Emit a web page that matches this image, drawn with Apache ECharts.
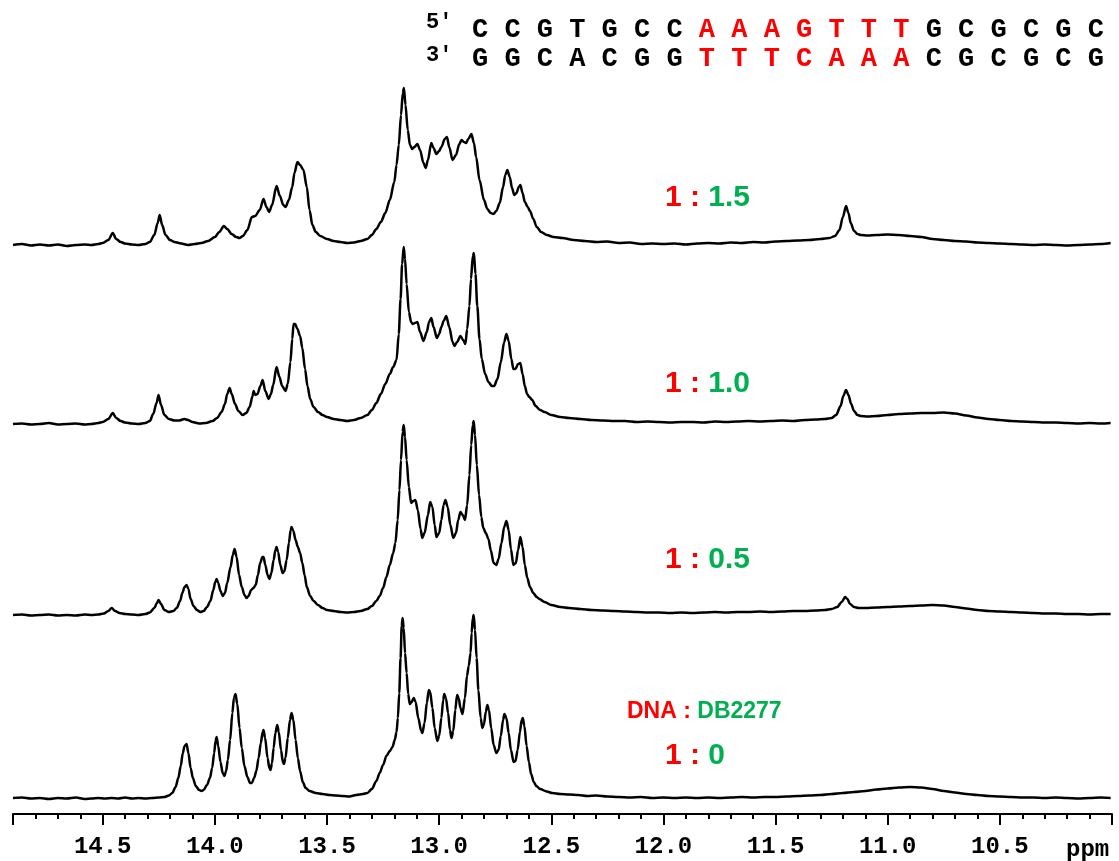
<!DOCTYPE html>
<html><head><meta charset="utf-8">
<script src="https://cdn.jsdelivr.net/npm/echarts@6/dist/echarts.min.js"></script>
<style>html,body{margin:0;padding:0;background:#fff}#c{width:1119px;height:861px}</style>
</head><body><div id="c"></div>
<script>
// x range (ppm) and tick labels
const ppmMin = 10.0, ppmMax = 14.9;
const tickLabels = ['14.5','14.0','13.5','13.0','12.5','12.0','11.5','11.0','10.5'];

// spectra: [ppm, intensity] (intensity above each trace's own baseline)
const trace15 = [[14.90,0],[14.86,1],[14.82,-0.5],[14.78,0.5],[14.74,-0.5],[14.70,0.5],[14.66,-1],[14.62,0],[14.58,0.5],[14.55,0],[14.52,1],[14.50,2],[14.475,5],[14.455,12],[14.44,6],[14.42,3],[14.40,1.5],[14.37,0.5],[14.34,0],[14.31,1],[14.29,3],[14.27,10],[14.255,22],[14.246,30],[14.235,20],[14.22,10],[14.20,5],[14.18,3],[14.15,1.5],[14.12,0],[14.09,1],[14.06,2],[14.03,4],[14.00,8],[13.98,13],[13.96,19],[13.945,16],[13.925,11],[13.905,8],[13.89,7],[13.875,9],[13.855,15],[13.835,28],[13.82,29],[13.80,35],[13.783,46],[13.77,38],[13.758,33],[13.745,40],[13.725,59],[13.71,49],[13.695,40],[13.685,38],[13.67,45],[13.655,58],[13.645,72],[13.632,83],[13.62,80],[13.605,75],[13.59,58],[13.578,35],[13.565,20],[13.55,13],[13.53,9],[13.50,6],[13.47,4],[13.44,3],[13.41,2],[13.38,2.5],[13.35,4],[13.32,6],[13.30,10],[13.28,16],[13.26,23],[13.24,32],[13.22,45],[13.20,63],[13.19,80],[13.18,100],[13.17,130],[13.162,152],[13.157,157],[13.15,140],[13.14,115],[13.13,100],[13.12,96],[13.11,98],[13.097,101],[13.085,95],[13.07,82],[13.06,77],[13.05,85],[13.035,102],[13.025,97],[13.012,91],[13.00,94],[12.99,98],[12.975,106],[12.965,108],[12.955,98],[12.94,85],[12.925,90],[12.91,101],[12.90,105],[12.89,103],[12.88,102],[12.87,106],[12.856,111],[12.845,102],[12.835,88],[12.82,65],[12.80,45],[12.785,36],[12.77,32],[12.758,31],[12.745,34],[12.73,42],[12.715,58],[12.705,70],[12.696,75],[12.685,68],[12.675,57],[12.665,50],[12.655,52],[12.645,58],[12.638,60],[12.628,52],[12.618,43],[12.605,38],[12.595,34],[12.58,26],[12.565,18],[12.545,13],[12.52,10],[12.49,8],[12.45,7],[12.40,5],[12.35,4],[12.30,3],[12.25,3.5],[12.20,2],[12.15,2.5],[12.10,1],[12.05,1.5],[12.00,1],[11.95,1.5],[11.90,0.5],[11.85,1.5],[11.80,2],[11.75,1.5],[11.70,2.5],[11.65,2],[11.60,3],[11.55,2.5],[11.50,3.5],[11.45,4],[11.40,4.5],[11.35,5],[11.30,6],[11.26,7],[11.235,9],[11.215,15],[11.20,28],[11.186,39],[11.175,32],[11.165,22],[11.15,14],[11.135,11],[11.12,10],[11.09,9.5],[11.05,10],[11.00,10.5],[10.95,10],[10.90,9],[10.85,8],[10.80,6],[10.75,5],[10.70,4],[10.65,3.5],[10.60,2.5],[10.55,2],[10.50,1.5],[10.45,1],[10.40,0.5],[10.35,0],[10.30,0.5],[10.25,0],[10.20,-0.5],[10.15,0],[10.10,0.5],[10.05,1],[10.006,2]];
const trace10 = [[14.90,0],[14.86,0.5],[14.82,-0.5],[14.78,0],[14.74,1],[14.70,-0.5],[14.66,0],[14.62,0.5],[14.58,-0.5],[14.55,0],[14.52,1],[14.50,2],[14.475,5],[14.455,11],[14.44,6],[14.42,3],[14.40,1.5],[14.37,0.5],[14.34,0],[14.31,1],[14.29,3],[14.275,10],[14.26,21],[14.251,29],[14.24,19],[14.225,9],[14.205,5],[14.18,3.5],[14.16,3.5],[14.135,5],[14.12,4],[14.10,2],[14.07,0.5],[14.04,1],[14.01,3],[13.99,6],[13.97,12],[13.955,20],[13.945,30],[13.934,36],[13.925,30],[13.91,20],[13.895,13],[13.876,9],[13.86,11],[13.845,17],[13.832,28],[13.827,33],[13.82,29],[13.81,30],[13.797,38],[13.787,44],[13.775,33],[13.76,25],[13.75,30],[13.74,39],[13.725,57],[13.712,47],[13.70,38],[13.685,33],[13.675,40],[13.663,62],[13.655,85],[13.649,100],[13.642,100],[13.632,95],[13.62,88],[13.61,76],[13.598,55],[13.587,38],[13.575,25],[13.56,17],[13.54,12],[13.52,9],[13.50,7],[13.47,5],[13.44,4],[13.41,3],[13.38,4],[13.35,6],[13.32,9],[13.30,14],[13.28,21],[13.26,30],[13.24,40],[13.22,50],[13.205,57],[13.19,64],[13.18,90],[13.172,125],[13.165,160],[13.158,177],[13.152,165],[13.145,140],[13.135,112],[13.125,102],[13.118,100],[13.108,101],[13.097,102],[13.085,92],[13.07,83],[13.055,92],[13.045,102],[13.035,106],[13.025,97],[13.01,86],[13.00,90],[12.99,97],[12.98,103],[12.968,108],[12.955,97],[12.94,82],[12.932,78],[12.92,82],[12.905,88],[12.893,84],[12.883,80],[12.875,95],[12.865,118],[12.858,145],[12.85,168],[12.845,171],[12.838,150],[12.83,118],[12.82,85],[12.81,65],[12.795,50],[12.78,42],[12.765,38],[12.755,38],[12.74,45],[12.725,62],[12.71,82],[12.70,90],[12.69,83],[12.678,65],[12.669,55],[12.66,55],[12.648,60],[12.638,61],[12.628,50],[12.618,38],[12.608,30],[12.598,27],[12.585,24],[12.57,18],[12.55,14],[12.53,12],[12.50,9],[12.46,7],[12.42,6],[12.37,5],[12.32,4],[12.27,3.5],[12.22,3],[12.17,3],[12.12,2],[12.07,2.5],[12.02,2],[11.97,1.5],[11.92,2],[11.87,2],[11.82,1.5],[11.77,2.5],[11.72,2],[11.67,2.5],[11.62,3],[11.57,2.5],[11.52,3],[11.47,3.5],[11.42,3],[11.37,4],[11.32,4.5],[11.28,5],[11.25,6],[11.23,9],[11.21,18],[11.198,28],[11.186,34],[11.175,29],[11.163,20],[11.15,13],[11.135,9],[11.12,8],[11.09,7.5],[11.05,8],[11.00,9],[10.95,10],[10.90,10.5],[10.85,11],[10.80,11],[10.75,11.5],[10.70,10.5],[10.65,8.5],[10.60,6.5],[10.55,5],[10.50,4],[10.45,3],[10.40,2.5],[10.35,2],[10.30,1.5],[10.25,1.5],[10.20,1],[10.15,0.5],[10.10,1],[10.05,0.5],[10.006,1]];
const trace05 = [[14.90,0],[14.86,0.5],[14.82,-0.5],[14.78,0],[14.74,0.5],[14.70,-0.5],[14.66,0],[14.62,-0.5],[14.58,0.5],[14.55,0],[14.52,0.5],[14.495,1.5],[14.475,4],[14.46,7],[14.445,4],[14.425,2],[14.40,1],[14.37,0.5],[14.34,0],[14.31,1],[14.29,2.5],[14.27,7],[14.258,12],[14.251,15],[14.24,11],[14.225,5],[14.205,3],[14.185,4],[14.17,7],[14.155,14],[14.145,22],[14.135,28],[14.126,30],[14.118,26],[14.108,16],[14.095,9],[14.08,5],[14.065,3],[14.05,4],[14.035,8],[14.02,14],[14.007,25],[13.998,33],[13.992,36],[13.985,32],[13.975,24],[13.965,19],[13.955,22],[13.945,32],[13.93,48],[13.92,60],[13.912,66],[13.903,58],[13.892,40],[13.88,28],[13.868,20],[13.859,17],[13.85,19],[13.838,25],[13.828,27],[13.818,30],[13.808,40],[13.798,52],[13.788,58],[13.783,58],[13.775,50],[13.765,40],[13.757,36],[13.748,42],[13.738,55],[13.73,65],[13.725,68],[13.718,63],[13.708,50],[13.698,42],[13.69,44],[13.68,55],[13.67,72],[13.662,85],[13.658,88],[13.65,84],[13.64,75],[13.63,68],[13.62,62],[13.61,52],[13.60,40],[13.59,28],[13.575,19],[13.56,14],[13.54,10],[13.52,7],[13.50,5],[13.47,4],[13.44,3],[13.41,2.5],[13.38,3],[13.35,4],[13.32,6],[13.30,9],[13.28,14],[13.265,19],[13.25,27],[13.235,38],[13.22,50],[13.205,62],[13.195,72],[13.185,95],[13.177,125],[13.17,155],[13.163,183],[13.158,190],[13.152,178],[13.145,155],[13.135,128],[13.125,112],[13.115,114],[13.106,115],[13.095,105],[13.083,86],[13.075,77],[13.065,82],[13.05,100],[13.04,113],[13.03,108],[13.02,90],[13.012,78],[13.00,82],[12.99,95],[12.98,110],[12.972,115],[12.962,108],[12.95,90],[12.937,77],[12.925,82],[12.915,95],[12.905,103],[12.895,100],[12.885,95],[12.875,110],[12.865,140],[12.857,170],[12.85,190],[12.846,194],[12.84,180],[12.832,150],[12.822,120],[12.812,98],[12.803,87],[12.792,82],[12.78,76],[12.77,65],[12.757,52],[12.745,50],[12.735,56],[12.722,72],[12.71,88],[12.70,94],[12.69,85],[12.68,66],[12.669,50],[12.658,52],[12.648,65],[12.638,78],[12.628,68],[12.618,50],[12.607,37],[12.595,28],[12.58,22],[12.565,18],[12.553,16],[12.53,13],[12.50,10],[12.46,8],[12.42,7],[12.37,6],[12.32,5],[12.27,4.5],[12.22,4],[12.17,3.5],[12.12,3],[12.07,2.5],[12.02,2.5],[11.97,2],[11.92,2.5],[11.87,2],[11.82,2.5],[11.77,3],[11.72,2.5],[11.67,3],[11.62,3],[11.57,3.5],[11.52,3],[11.47,3.5],[11.42,4],[11.37,4],[11.32,4.5],[11.28,5],[11.25,6],[11.225,8],[11.205,13],[11.19,18],[11.18,16],[11.168,11],[11.15,8],[11.13,7],[11.10,7],[11.05,7.5],[11.00,8],[10.95,8.5],[10.90,9],[10.85,9.5],[10.80,10],[10.75,9.5],[10.70,8],[10.65,6.5],[10.60,5],[10.55,4],[10.50,3.5],[10.45,3],[10.40,2.5],[10.35,2],[10.30,1.5],[10.25,1.5],[10.20,1],[10.15,1],[10.10,0.5],[10.05,1],[10.006,1]];
const trace00 = [[14.90,0],[14.86,0.5],[14.82,-0.5],[14.78,0],[14.74,-1],[14.70,0],[14.66,-0.5],[14.62,0.5],[14.58,-1],[14.55,-0.5],[14.52,0],[14.49,-0.5],[14.46,0],[14.43,-0.5],[14.40,0.5],[14.37,-0.5],[14.34,0],[14.31,-0.5],[14.28,0],[14.25,0.5],[14.225,1],[14.205,2.5],[14.19,5],[14.175,11],[14.163,20],[14.152,32],[14.143,45],[14.135,52],[14.126,54],[14.118,45],[14.108,30],[14.098,20],[14.085,12],[14.07,8],[14.059,7],[14.05,8],[14.035,13],[14.022,20],[14.012,30],[14.003,45],[13.997,57],[13.992,61],[13.985,52],[13.975,36],[13.965,25],[13.957,22],[13.95,27],[13.942,38],[13.932,58],[13.922,85],[13.915,100],[13.908,104],[13.90,94],[13.89,70],[13.88,50],[13.868,32],[13.855,21],[13.843,15],[13.835,15],[13.825,20],[13.815,27],[13.805,40],[13.795,55],[13.787,66],[13.783,68],[13.776,60],[13.765,40],[13.757,30],[13.752,28],[13.745,35],[13.738,50],[13.73,65],[13.722,73],[13.715,66],[13.705,48],[13.697,36],[13.692,34],[13.685,40],[13.675,60],[13.665,78],[13.658,85],[13.65,78],[13.64,58],[13.63,40],[13.62,27],[13.608,16],[13.595,10],[13.578,7],[13.55,5],[13.52,4],[13.49,3],[13.46,2.5],[13.43,2],[13.40,1.5],[13.37,3],[13.34,4],[13.32,5],[13.30,9],[13.28,17],[13.265,25],[13.25,33],[13.235,42],[13.22,47],[13.208,51],[13.198,58],[13.19,66],[13.184,80],[13.178,105],[13.172,140],[13.167,172],[13.163,180],[13.158,170],[13.152,145],[13.145,125],[13.138,104],[13.131,94],[13.123,96],[13.113,100],[13.105,96],[13.093,80],[13.08,67],[13.075,65],[13.065,75],[13.055,95],[13.046,108],[13.04,106],[13.03,90],[13.02,70],[13.008,57],[13.00,62],[12.99,80],[12.982,98],[12.977,104],[12.97,100],[12.96,85],[12.952,68],[12.945,60],[12.937,67],[12.928,88],[12.92,103],[12.913,100],[12.905,90],[12.896,84],[12.885,100],[12.876,122],[12.868,132],[12.86,145],[12.855,165],[12.85,180],[12.846,183],[12.84,168],[12.833,140],[12.825,108],[12.815,80],[12.807,70],[12.80,74],[12.792,86],[12.785,93],[12.778,88],[12.768,70],[12.757,53],[12.745,45],[12.735,48],[12.725,62],[12.715,78],[12.709,84],[12.70,80],[12.69,65],[12.68,48],[12.668,36],[12.66,37],[12.65,48],[12.64,66],[12.632,78],[12.627,80],[12.62,72],[12.61,52],[12.60,36],[12.59,24],[12.578,16],[12.567,12],[12.55,9],[12.52,6.5],[12.496,5],[12.46,4],[12.42,3.5],[12.38,3],[12.34,2],[12.30,2.5],[12.25,1.5],[12.20,1],[12.15,0.5],[12.10,1],[12.05,0],[12.00,0.5],[11.95,0],[11.90,0.5],[11.85,0],[11.80,0.5],[11.75,0],[11.70,0.5],[11.65,1],[11.60,0.5],[11.55,1],[11.50,1],[11.45,1.5],[11.40,2],[11.35,2.5],[11.30,3],[11.25,4],[11.20,5],[11.15,6],[11.10,7],[11.05,8.5],[11.00,9.5],[10.95,10.5],[10.90,11],[10.85,10.5],[10.80,9],[10.75,7],[10.70,5.5],[10.65,4],[10.60,3],[10.55,2],[10.50,1.5],[10.45,1],[10.40,0.5],[10.35,0.5],[10.30,0],[10.25,0.5],[10.20,0],[10.15,-0.5],[10.10,0],[10.05,0.5],[10.006,0]];

// ratio labels (DNA : ligand)
const ratioDNA = ['1','1','1','1'];
const ratioLig = ['1.5','1.0','0.5','0'];
const legendDNA = 'DNA', legendLig = 'DB2277';

// sequence parts [text, colour key]
const seqTop = [['CCGTGCC','k'],['AAAGTTT','r'],['GCGCGC','k']];
const seqBot = [['GGCACGG','k'],['TTTCAAA','r'],['CGCGCG','k']];

const traces = [trace15, trace10, trace05, trace00];
const baselines = [245, 424, 615, 798];
const yLo = -16, yHi = 200;

const grids = [], xAxes = [], yAxes = [], series = [];
traces.forEach((d, i) => {
  grids.push({left: 13, right: 7, top: baselines[i] - yHi, height: yHi - yLo});
  yAxes.push({type: 'value', gridIndex: i, min: yLo, max: yHi, show: false});
  const last = i === traces.length - 1;
  xAxes.push({
    type: 'value', gridIndex: i, position: 'bottom', offset: 0, min: ppmMin, max: ppmMax, inverse: true, interval: 0.5,
    show: last,
    axisLine: {show: true, onZero: false, lineStyle: {color: '#000', width: 2}},
    axisTick: {show: true, length: 11, lineStyle: {color: '#000', width: 2}},
    axisLabel: {show: true, margin: 21, color: '#000', fontFamily: 'Liberation Mono', fontWeight: 'bold', fontSize: 24,
      formatter: v => { const s = v.toFixed(1); return tickLabels.includes(s) ? s : ''; }},
    splitLine: {show: false}
  });
  series.push({type: 'line', xAxisIndex: i, yAxisIndex: i, data: d, showSymbol: false, silent: true,
    smooth: 0.3, smoothMonotone: 'x', clip: false,
    lineStyle: {color: '#000', width: 2.5}});
});
// minor ticks axis (same grid, same position)
xAxes.push({type: 'value', gridIndex: 3, position: 'bottom', offset: 0, min: ppmMin, max: ppmMax, inverse: true, interval: 0.1,
  axisLine: {show: false, onZero: false}, axisTick: {show: true, length: 5, lineStyle: {color: '#000', width: 2}},
  axisLabel: {show: false}, splitLine: {show: false}});

const RED = '#ff0000', GREEN = '#00b050';
const graphics = [];
const ratioY = [200, 386, 562, 758];
ratioLig.forEach((r, i) => {
  graphics.push({type: 'text', left: 665, top: ratioY[i] - 17, style: {
    text: '{a|' + ratioDNA[i] + ' : }{b|' + r + '}',
    rich: {a: {fill: RED, font: 'bold 30px "Liberation Sans", Arial'}, b: {fill: GREEN, font: 'bold 30px "Liberation Sans", Arial'}}
  }});
});
graphics.push({type: 'text', left: 627, top: 700, style: {
  text: '{a|' + legendDNA + ' : }{b|' + legendLig + '}',
  rich: {a: {fill: RED, font: 'bold 23px "Liberation Sans", Arial'}, b: {fill: GREEN, font: 'bold 23px "Liberation Sans", Arial'}}
}});
function seqText(parts) {
  return parts.map(p => '{' + p[1] + '|' + p[0].split('').join(' ') + '}').join('{k| }');
}
const seqRich = {k: {fill: '#000', font: 'bold 27px "Liberation Mono"'}, r: {fill: RED, font: 'bold 27px "Liberation Mono"'}};
graphics.push({type: 'text', left: 472, top: 17, style: {text: seqText(seqTop), rich: seqRich}});
graphics.push({type: 'text', left: 472, top: 46, style: {text: seqText(seqBot), rich: seqRich}});
graphics.push({type: 'text', left: 426, top: 11, style: {text: "5'", fill: '#000', font: 'bold 22px "Liberation Mono"'}});
graphics.push({type: 'text', left: 426, top: 44, style: {text: "3'", fill: '#000', font: 'bold 22px "Liberation Mono"'}});
graphics.push({type: 'text', left: 1066, top: 838, style: {text: 'ppm', fill: '#000', font: 'bold 24px "Liberation Mono"'}});

const chart = echarts.init(document.getElementById('c'), null, {renderer: 'canvas'});
chart.setOption({animation: false, backgroundColor: '#fff', grid: grids, xAxis: xAxes, yAxis: yAxes, series: series, graphic: graphics});
</script></body></html>
